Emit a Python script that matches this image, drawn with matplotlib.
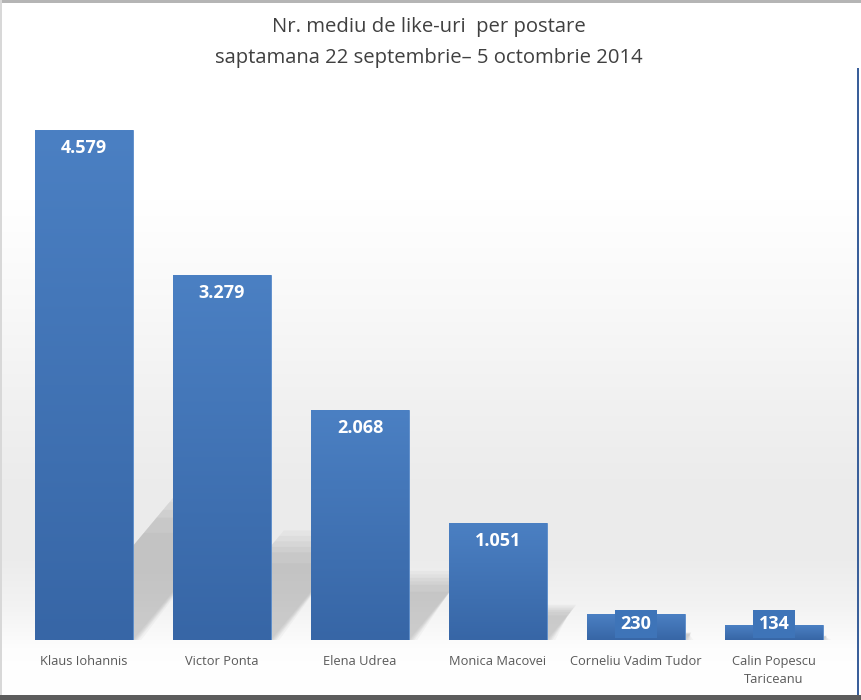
import numpy as np
import matplotlib
matplotlib.use("Agg")
import matplotlib.pyplot as plt
from matplotlib.colors import LinearSegmentedColormap
from matplotlib.patches import Polygon, Rectangle

# ---- data ----
categories = ["Klaus Iohannis", "Victor Ponta", "Elena Udrea", "Monica Macovei",
              "Corneliu Vadim Tudor", "Calin Popescu\nTariceanu"]
values = [4579, 3279, 2068, 1051, 230, 134]
value_labels = ["4.579", "3.279", "2.068", "1.051", "230", "134"]
title_lines = ["Nr. mediu de like-uri  per postare",
               "saptamana 22 septembrie\u2013 5 octombrie 2014"]

W, H = 861, 700
fig = plt.figure(figsize=(W / 100, H / 100), dpi=100)

# ---- background gradient (pixel coords) ----
bg = fig.add_axes([0, 0, 1, 1], zorder=0)
bg.set_xlim(0, W)
bg.set_ylim(H, 0)
bg.axis("off")
stops_y = [0, 200, 300, 400, 480, 560, 610, 650, 700]
stops_g = [1.0, 1.0, 0.975, 0.945, 0.925, 0.925, 0.955, 0.995, 1.0]
yy = np.arange(H)
gray = np.interp(yy, stops_y, stops_g)
img = np.repeat(gray[:, None], 2, axis=1)
img = np.dstack([img, img, img])
bg.imshow(img, extent=(0, W, H, 0), aspect="auto", interpolation="bilinear")
# frame lines
bg.add_patch(Rectangle((0, 0), W, 3, color="#b5b5b5", lw=0))
bg.add_patch(Rectangle((0, 695), W, 5, color="#5c5c5c", lw=0))
bg.add_patch(Rectangle((857, 68), 2, 627, color="#3a5f9a", lw=0))
bg.add_patch(Rectangle((0, 0), 2, 695, color="#d8d8d8", lw=0))

# ---- main axes ----
px_per_unit = 510 / 4579.0
left_px, right_px, base_px = 15, 843, 640
ymax = 5000
ax = fig.add_axes([left_px / W, (H - base_px) / H, (right_px - left_px) / W,
                   ymax * px_per_unit / H], zorder=1)
ax.patch.set_alpha(0)
ax.set_xlim(-0.5, len(values) - 0.5)
ax.set_ylim(0, ymax)
for s in ax.spines.values():
    s.set_visible(False)
ax.set_yticks([])

x = np.arange(len(values))
bw = 0.71
px_per_x = (right_px - left_px) / len(values)

# soft shadows cast back-right
for xi, v in zip(x, values):
    Hs = 0.30 * v
    dx = (Hs * px_per_unit / 1.2) / px_per_x
    x0, x1 = xi - bw / 2, xi + bw / 2
    for k, a in [(1.0, 0.05), (0.95, 0.05), (0.9, 0.06), (0.85, 0.06), (0.8, 0.06), (0.7, 0.05)]:
        poly = Polygon([(x0 + 0.2 * bw, 0), (x1 + 0.02 * (1 - k) * 10, 0),
                        (x1 + dx * k, Hs * k), (x0 + 0.2 * bw + dx * k, Hs * k)],
                       closed=True, facecolor="#666666", alpha=a, lw=0, zorder=1)
        ax.add_patch(poly)

bars = ax.bar(x, values, width=bw, color="#3f74b8", edgecolor="#5a8ccb",
              linewidth=0.6, zorder=3)
cmap = LinearSegmentedColormap.from_list("barg", ["#3766a6", "#4b80c3"])
grad = np.linspace(0, 1, 256)[:, None]
for b in bars:
    im = ax.imshow(grad, extent=(b.get_x(), b.get_x() + b.get_width(), 0, b.get_height()),
                   origin="lower", aspect="auto", cmap=cmap, zorder=3.5,
                   interpolation="bilinear")
    im.set_clip_path(b)

# value labels
top_off = 18 / px_per_unit
min_y = 16 / px_per_unit
for xi, v, lab in zip(x, values, value_labels):
    yl = max(v - top_off, min_y)
    box = None
    if yl > v - top_off:
        box = dict(boxstyle="square,pad=0.3", facecolor="#3e74b8", edgecolor="none")
    ax.text(xi, yl, lab, ha="center", va="center", color="white",
            fontsize=13, fontweight="bold", family=["Open Sans", "DejaVu Sans"],
            zorder=5, bbox=box)

ax.set_xticks(x)
ax.set_xticklabels(categories, fontsize=9.3, color="#595959",
                   family=["Open Sans", "DejaVu Sans"], linespacing=1.5)
ax.tick_params(axis="x", length=0, pad=11)

# title
fig.text(429 / W, 1 - 32 / H, title_lines[0], ha="center", va="baseline",
         fontsize=14.6, color="#404040", family=["Open Sans", "DejaVu Sans"])
fig.text(429 / W, 1 - 63 / H, title_lines[1], ha="center", va="baseline",
         fontsize=14.6, color="#404040", family=["Open Sans", "DejaVu Sans"])

fig.savefig("out.png", dpi=100)
